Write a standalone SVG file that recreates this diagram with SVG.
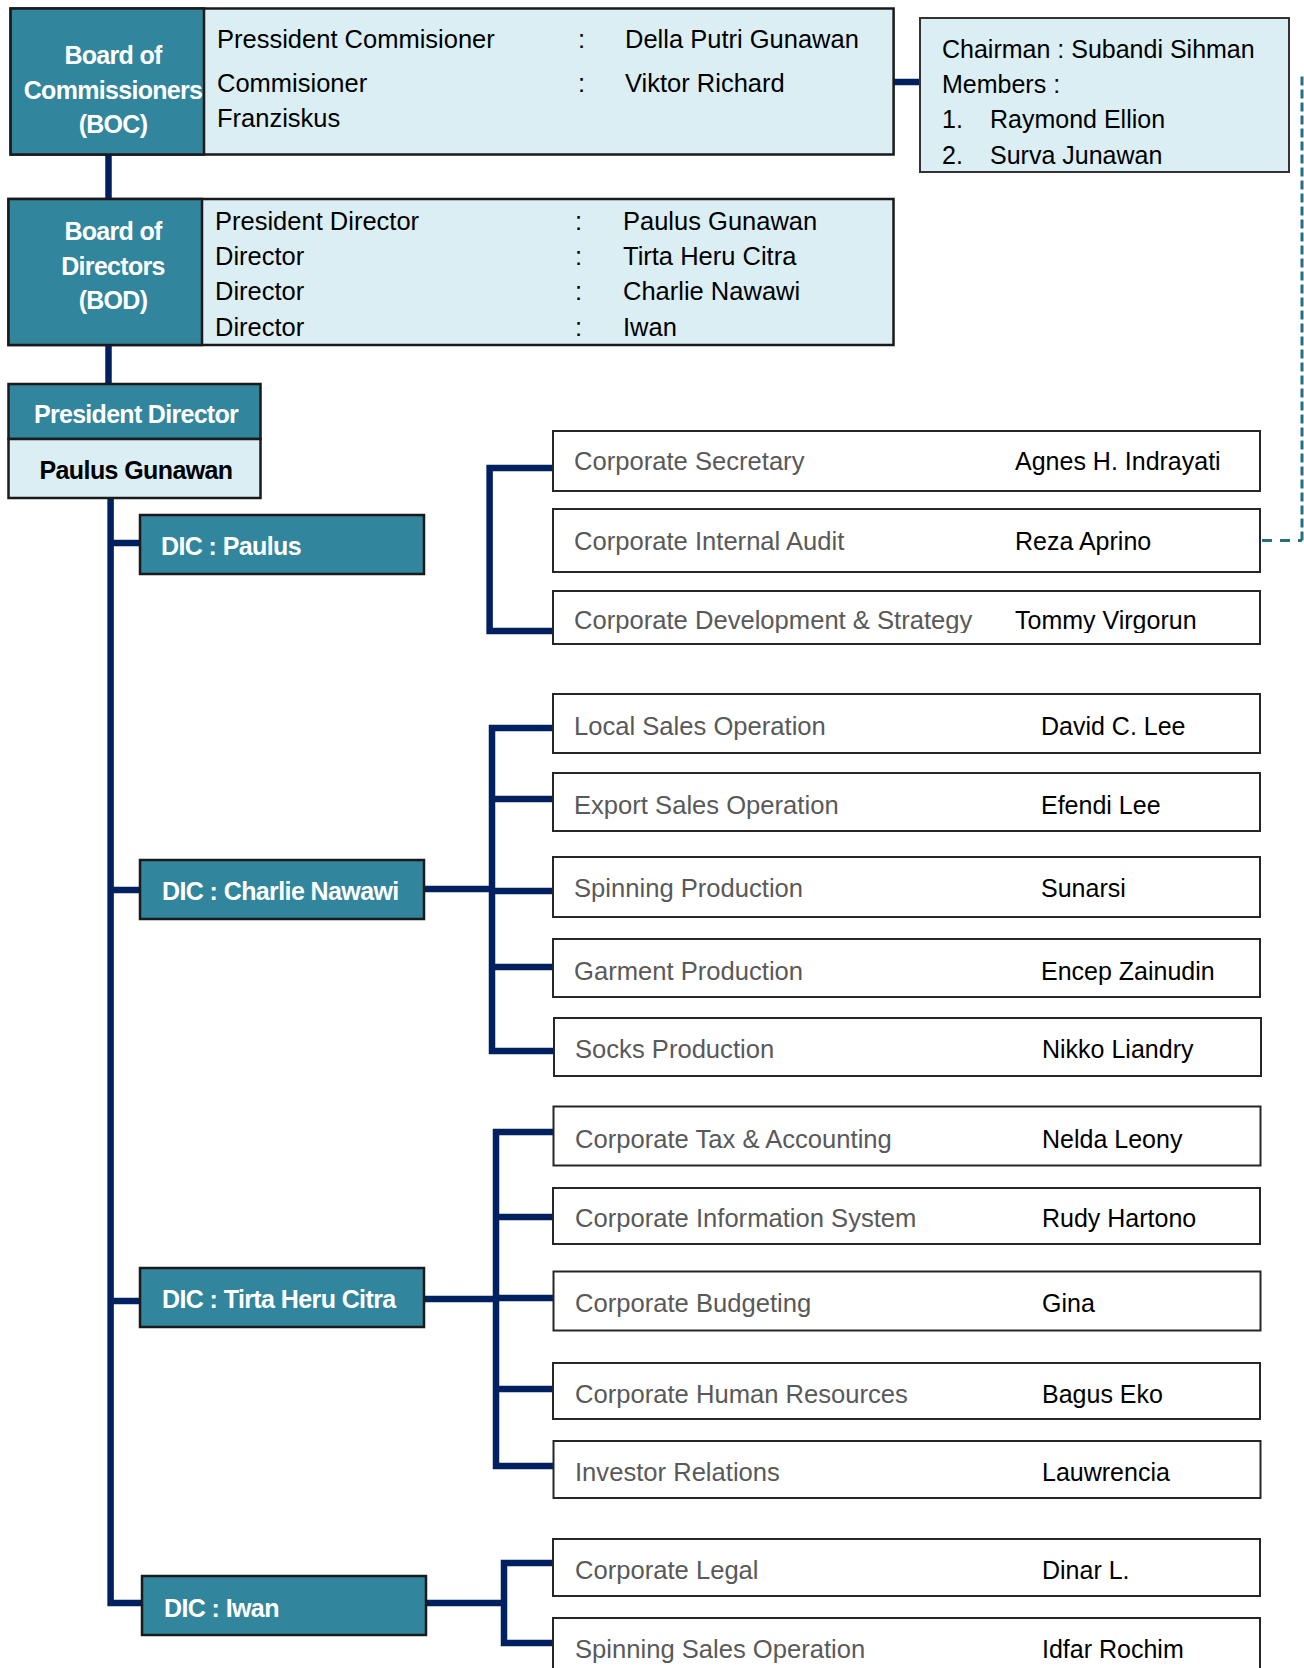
<svg xmlns="http://www.w3.org/2000/svg" width="1304" height="1668" viewBox="0 0 1304 1668">
<style>
  text { font-family: "Liberation Sans", Arial, sans-serif; }
  .dark { fill: #31859c; stroke: #1a1a1a; stroke-width: 2.5; }
  .light { fill: #dbeef3; stroke: #1a1a1a; stroke-width: 2.5; }
  .dept { fill: #ffffff; stroke: #262626; stroke-width: 2; }
  .conn { stroke: #002060; stroke-width: 6.5; fill: none; stroke-linejoin: miter; stroke-linecap: butt; }
  .dash { stroke: #256f80; stroke-width: 3; fill: none; }
  .hd { fill: #ffffff; font-weight: bold; font-size: 25px; letter-spacing: -0.6px; }
  .hdc { fill: #ffffff; font-weight: bold; font-size: 25px; letter-spacing: -0.7px; text-anchor: middle; }
  .bk { fill: #000000; font-weight: bold; font-size: 25px; letter-spacing: -0.6px; text-anchor: middle; }
  .tx { fill: #000000; font-size: 25.5px; }
  .au { fill: #000000; font-size: 25px; }
  .lbl { fill: #595959; font-size: 25.6px; }
  .nm { fill: #000000; font-size: 25px; }
</style>
<defs>
  <clipPath id="clipDev"><rect x="553" y="591" width="707" height="42"/></clipPath>
</defs>

<g id="connectors">
  <path class="conn" d="M108.5 154 V199"/>
  <path class="conn" d="M108.5 345 V384"/>
  <path class="conn" d="M893 82 H920"/>
  <path class="conn" d="M110.6 497 V1603 H142"/>
  <path class="conn" d="M110.6 543 H140"/>
  <path class="conn" d="M110.6 890 H140"/>
  <path class="conn" d="M110.6 1301 H140"/>
  <path class="conn" d="M553 468 H489.6 V631 H553"/>
  <path class="conn" d="M424 889 H492"/>
  <path class="conn" d="M553 728 H492 V1051 H553"/>
  <path class="conn" d="M492 799 H553"/>
  <path class="conn" d="M492 891 H553"/>
  <path class="conn" d="M492 967 H553"/>
  <path class="conn" d="M424 1299 H496"/>
  <path class="conn" d="M553 1132 H496 V1466 H553"/>
  <path class="conn" d="M496 1217 H553"/>
  <path class="conn" d="M496 1298 H553"/>
  <path class="conn" d="M496 1389 H553"/>
  <path class="conn" d="M426 1603 H504"/>
  <path class="conn" d="M552 1563 H504 V1643 H552"/>
  <path class="dash" d="M1262 540.5 H1302" stroke-dasharray="10 8"/>
  <path class="dash" d="M1302 540.5 V75" stroke-dasharray="9 4"/>
</g>

<g id="boc">
  <rect class="light" x="10.6" y="8.5" width="883" height="146"/>
  <rect class="dark" x="10.6" y="8.5" width="193.4" height="146"/>
  <text class="hdc" x="113" y="64">Board of</text>
  <text class="hdc" x="113" y="99">Commissioners</text>
  <text class="hdc" x="113" y="133">(BOC)</text>
  <text class="tx" x="217" y="48">Pressident Commisioner</text>
  <text class="tx" x="578" y="48">:</text>
  <text class="tx" x="625" y="48">Della Putri Gunawan</text>
  <text class="tx" x="217" y="92">Commisioner</text>
  <text class="tx" x="578" y="92">:</text>
  <text class="tx" x="625" y="92">Viktor Richard</text>
  <text class="tx" x="217" y="127">Franziskus</text>
</g>

<g id="audit-committee">
  <rect class="light" x="920" y="18" width="369" height="154" style="stroke:#333;stroke-width:2"/>
  <text class="au" x="942" y="58">Chairman : Subandi Sihman</text>
  <text class="au" x="942" y="93">Members :</text>
  <text class="au" x="942" y="128">1.</text>
  <text class="au" x="990" y="128">Raymond Ellion</text>
  <text class="au" x="942" y="164">2.</text>
  <text class="au" x="990" y="164">Surva Junawan</text>
</g>

<g id="bod">
  <rect class="light" x="8.5" y="199" width="885" height="146"/>
  <rect class="dark" x="8.5" y="199" width="193.5" height="146"/>
  <text class="hdc" x="113" y="240">Board of</text>
  <text class="hdc" x="113" y="275">Directors</text>
  <text class="hdc" x="113" y="309">(BOD)</text>
  <text class="tx" x="215" y="230">President Director</text>
  <text class="tx" x="575" y="230">:</text>
  <text class="tx" x="623" y="230">Paulus Gunawan</text>
  <text class="tx" x="215" y="265">Director</text>
  <text class="tx" x="575" y="265">:</text>
  <text class="tx" x="623" y="265">Tirta Heru Citra</text>
  <text class="tx" x="215" y="300">Director</text>
  <text class="tx" x="575" y="300">:</text>
  <text class="tx" x="623" y="300">Charlie Nawawi</text>
  <text class="tx" x="215" y="336">Director</text>
  <text class="tx" x="575" y="336">:</text>
  <text class="tx" x="623" y="336">Iwan</text>
</g>

<g id="president-director">
  <rect class="dark" x="8.5" y="384" width="252" height="55"/>
  <rect class="light" x="8.5" y="439" width="252" height="59"/>
  <text class="hdc" x="136" y="423">President Director</text>
  <text class="bk" x="136" y="479">Paulus Gunawan</text>
</g>

<g id="dic-paulus">
  <rect class="dark" x="140" y="515" width="284" height="59"/>
  <text class="hd" x="161" y="555">DIC : Paulus</text>
</g>
<g id="dic-charlie">
  <rect class="dark" x="140" y="860" width="284" height="59"/>
  <text class="hd" x="162" y="900">DIC : Charlie Nawawi</text>
</g>
<g id="dic-tirta">
  <rect class="dark" x="140" y="1268" width="284" height="59"/>
  <text class="hd" x="162" y="1308">DIC : Tirta Heru Citra</text>
</g>
<g id="dic-iwan">
  <rect class="dark" x="142" y="1576" width="284" height="59"/>
  <text class="hd" x="164" y="1617">DIC : Iwan</text>
</g>

<g id="corp-secretary">
  <rect class="dept" x="553" y="431" width="707" height="60"/>
  <text class="lbl" x="574" y="470">Corporate Secretary</text>
  <text class="nm" x="1015" y="470">Agnes H. Indrayati</text>
</g>
<g id="corp-internal-audit">
  <rect class="dept" x="553" y="509" width="707" height="63"/>
  <text class="lbl" x="574" y="550">Corporate Internal Audit</text>
  <text class="nm" x="1015" y="550">Reza Aprino</text>
</g>
<g id="corp-dev">
  <rect class="dept" x="553" y="591" width="707" height="53"/>
  <g clip-path="url(#clipDev)">
    <text class="lbl" x="574" y="629">Corporate Development &amp; Strategy</text>
    <text class="nm" x="1015" y="629">Tommy Virgorun</text>
  </g>
</g>

<g id="local-sales">
  <rect class="dept" x="553" y="694" width="707" height="59"/>
  <text class="lbl" x="574" y="735">Local Sales Operation</text>
  <text class="nm" x="1041" y="735">David C. Lee</text>
</g>
<g id="export-sales">
  <rect class="dept" x="553" y="773" width="707" height="58"/>
  <text class="lbl" x="574" y="814">Export Sales Operation</text>
  <text class="nm" x="1041" y="814">Efendi Lee</text>
</g>
<g id="spinning-production">
  <rect class="dept" x="553" y="857" width="707" height="60"/>
  <text class="lbl" x="574" y="897">Spinning Production</text>
  <text class="nm" x="1041" y="897">Sunarsi</text>
</g>
<g id="garment-production">
  <rect class="dept" x="553" y="939" width="707" height="58"/>
  <text class="lbl" x="574" y="980">Garment Production</text>
  <text class="nm" x="1041" y="980">Encep Zainudin</text>
</g>
<g id="socks-production">
  <rect class="dept" x="554" y="1018" width="707" height="58"/>
  <text class="lbl" x="575" y="1058">Socks Production</text>
  <text class="nm" x="1042" y="1058">Nikko Liandry</text>
</g>

<g id="tax-accounting">
  <rect class="dept" x="553.5" y="1106.5" width="707" height="59"/>
  <text class="lbl" x="575" y="1148">Corporate Tax &amp; Accounting</text>
  <text class="nm" x="1042" y="1148">Nelda Leony</text>
</g>
<g id="info-system">
  <rect class="dept" x="553" y="1188" width="707" height="56"/>
  <text class="lbl" x="575" y="1227">Corporate Information System</text>
  <text class="nm" x="1042" y="1227">Rudy Hartono</text>
</g>
<g id="budgeting">
  <rect class="dept" x="553.5" y="1271.5" width="707" height="59"/>
  <text class="lbl" x="575" y="1312">Corporate Budgeting</text>
  <text class="nm" x="1042" y="1312">Gina</text>
</g>
<g id="human-resources">
  <rect class="dept" x="553" y="1363" width="707" height="56"/>
  <text class="lbl" x="575" y="1403">Corporate Human Resources</text>
  <text class="nm" x="1042" y="1403">Bagus Eko</text>
</g>
<g id="investor-relations">
  <rect class="dept" x="553.5" y="1441" width="707" height="57"/>
  <text class="lbl" x="575" y="1481">Investor Relations</text>
  <text class="nm" x="1042" y="1481">Lauwrencia</text>
</g>

<g id="corp-legal">
  <rect class="dept" x="553" y="1539" width="707" height="57"/>
  <text class="lbl" x="575" y="1579">Corporate Legal</text>
  <text class="nm" x="1042" y="1579">Dinar L.</text>
</g>
<g id="spinning-sales">
  <rect class="dept" x="553" y="1618" width="707" height="60"/>
  <text class="lbl" x="575" y="1658">Spinning Sales Operation</text>
  <text class="nm" x="1042" y="1658">Idfar Rochim</text>
</g>
</svg>
